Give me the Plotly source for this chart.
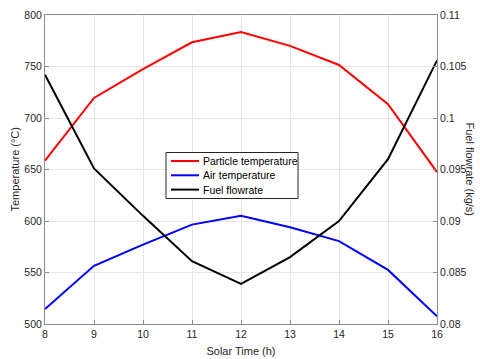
import plotly.graph_objects as go

hours = [8, 9, 10, 11, 12, 13, 14, 15, 16]
particle_temp = [658.5, 719.5, 747.5, 773.5, 783.5, 770.0, 751.5, 713.5, 647.5]
air_temp = [514.5, 556.5, 577.0, 596.5, 605.0, 594.0, 580.5, 552.5, 507.5]
fuel_flow = [0.1042, 0.0951, 0.0905, 0.0861, 0.0839, 0.0865, 0.0900, 0.0960, 0.1056]
series_names = ["Particle temperature", "Air temperature", "Fuel flowrate"]
series_colors = ["#ff0000", "#0000ff", "#000000"]
temp_ticks = [500, 550, 600, 650, 700, 750, 800]
flow_ticks = [0.08, 0.085, 0.09, 0.095, 0.1, 0.105, 0.11]
flow_ticktext = ["0.08", "0.085", "0.09", "0.095", "0.1", "0.105", "0.11"]

FAM = "Liberation Sans, Arial, sans-serif"
font = dict(family=FAM, size=10.5, color="#262626")
axcol = "#8c8c8c"
gridcol = "#e6e6e6"

fig = go.Figure()
ys = [particle_temp, air_temp, fuel_flow]
axes = ["y", "y", "y2"]
for name, col, yv, ax in zip(series_names, series_colors, ys, axes):
    fig.add_trace(go.Scatter(x=hours, y=yv, mode="lines", name=name, yaxis=ax,
                             line=dict(color=col, width=2), showlegend=False))

# Legend box (drawn manually to match compact MATLAB legend)
L, R, T, B = 45, 437, 15, 324
def px(x):
    return (x - L) / (R - L)
def py(y):
    return 1 - (y - T) / (B - T)

shapes = [dict(type="rect", xref="paper", yref="paper", layer="above",
               x0=px(166), x1=px(298), y0=py(198.5), y1=py(152.5),
               fillcolor="white", line=dict(color="#262626", width=1))]
annotations = []
rows = [161, 175.3, 189.6]
for name, col, ry in zip(series_names, series_colors, rows):
    shapes.append(dict(type="line", xref="paper", yref="paper", layer="above",
                       x0=px(171), x1=px(199), y0=py(ry), y1=py(ry),
                       line=dict(color=col, width=2)))
    annotations.append(dict(text=name, x=px(200.5), y=py(ry), xref="paper", yref="paper",
                            xanchor="left", yanchor="middle", showarrow=False,
                            font=dict(family=FAM, size=10.5, color="#000000")))

annotations.append(dict(text="Temperature (°C)", textangle=-90, x=0, y=0.5,
                        xref="paper", yref="paper", xanchor="center", yanchor="middle",
                        xshift=-31, showarrow=False,
                        font=dict(family=FAM, size=11, color="#262626")))
annotations.append(dict(text="Fuel flowrate (kg/s)", textangle=90, x=1.0, y=0.5,
                        xref="paper", yref="paper", xanchor="center", yanchor="middle",
                        xshift=33, showarrow=False,
                        font=dict(family=FAM, size=11, color="#262626")))

fig.update_layout(
    width=480, height=359,
    margin=dict(l=L, r=480 - R, t=T, b=359 - B, autoexpand=False),
    paper_bgcolor="white", plot_bgcolor="white",
    font=font,
    showlegend=False,
    xaxis=dict(range=[8, 16], tickvals=hours, ticks="inside", ticklen=4,
               tickcolor=axcol, showline=True, linecolor=axcol, linewidth=1,
               mirror=True, showgrid=True, gridcolor=gridcol, zeroline=False,
               automargin=False,
               title=dict(text="Solar Time (h)", standoff=8,
                          font=dict(family=FAM, size=11, color="#262626"))),
    yaxis=dict(range=[500, 800], tickvals=temp_ticks,
               ticks="inside", ticklen=4, tickcolor=axcol, showline=True,
               linecolor=axcol, linewidth=1, showgrid=True, gridcolor=gridcol,
               zeroline=False, automargin=False),
    yaxis2=dict(range=[0.08, 0.11], overlaying="y", side="right",
                tickvals=flow_ticks, ticktext=flow_ticktext,
                ticks="inside", ticklen=4, tickcolor=axcol, showline=True,
                linecolor=axcol, linewidth=1, showgrid=False, zeroline=False,
                automargin=False),
    shapes=shapes,
    annotations=annotations,
)

fig.write_html("out.html", config={"displayModeBar": False},
               post_script="document.body.style.margin='0';document.body.style.padding='0';")
